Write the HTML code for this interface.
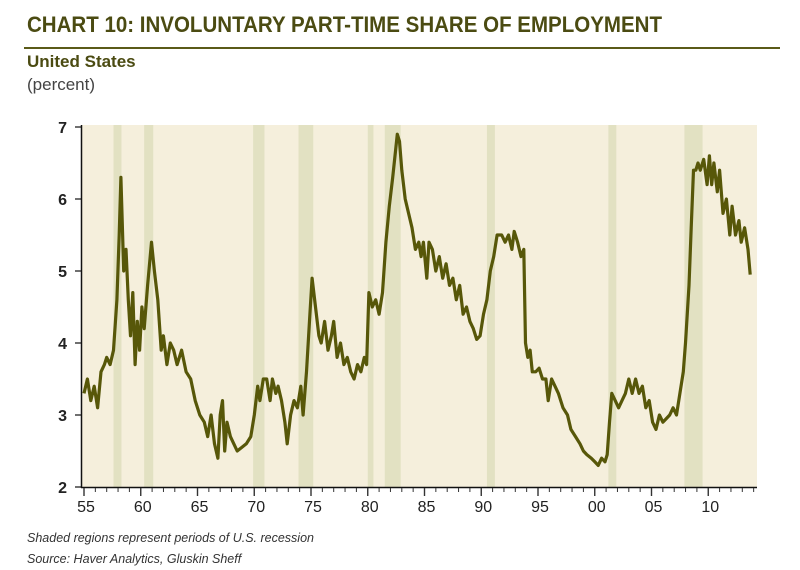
<!DOCTYPE html>
<html><head><meta charset="utf-8"><style>
body{margin:0;background:#fff;}
svg{display:block;font-family:"Liberation Sans",sans-serif;}
</style></head><body>
<svg width="800" height="570" viewBox="0 0 800 570">
<text x="27" y="32" font-size="22" font-weight="bold" fill="#4b4b12" textLength="635" lengthAdjust="spacingAndGlyphs">CHART 10: INVOLUNTARY PART-TIME SHARE OF EMPLOYMENT</text>
<rect x="24" y="47" width="756" height="2" fill="#5a5a18"/>
<text x="27" y="67" font-size="17" font-weight="bold" fill="#4b4b12">United States</text>
<text x="27" y="90" font-size="17" fill="#444">(percent)</text>
<rect x="82" y="125" width="675" height="362" fill="#f5efdc"/>
<g id="rec"></g>
<g id="ln"></g>
<g id="ax"></g>
<text x="27" y="542" font-size="12.5" font-style="italic" fill="#333">Shaded regions represent periods of U.S. recession</text>
<text x="27" y="563" font-size="12.5" font-style="italic" fill="#333">Source: Haver Analytics, Gluskin Sheff</text>
</svg>
<script>
const recStart=[1957.6,1960.3,1969.9,1973.9,1980.0,1981.5,1990.5,2001.2,2007.9];
const recEnd=[1958.3,1961.1,1970.9,1975.2,1980.5,1982.9,1991.2,2001.9,2009.5];
const years=[1955.0,1955.3,1955.6,1955.9,1956.2,1956.5,1956.8,1957.0,1957.3,1957.6,1957.9,1958.1,1958.25,1958.5,1958.7,1958.9,1959.1,1959.3,1959.5,1959.7,1959.9,1960.1,1960.3,1960.6,1960.95,1961.2,1961.5,1961.8,1962.0,1962.3,1962.6,1962.9,1963.2,1963.6,1964.0,1964.4,1964.8,1965.2,1965.6,1965.9,1966.2,1966.5,1966.8,1967.0,1967.2,1967.4,1967.6,1967.9,1968.2,1968.5,1968.9,1969.3,1969.7,1970.0,1970.3,1970.5,1970.8,1971.1,1971.4,1971.6,1971.9,1972.1,1972.4,1972.7,1972.9,1973.2,1973.5,1973.8,1974.1,1974.3,1974.6,1974.9,1975.1,1975.4,1975.7,1975.9,1976.2,1976.5,1976.8,1977.0,1977.3,1977.6,1977.9,1978.2,1978.5,1978.8,1979.1,1979.4,1979.7,1979.9,1980.1,1980.4,1980.7,1981.0,1981.3,1981.6,1981.9,1982.2,1982.6,1982.8,1983.0,1983.3,1983.6,1983.9,1984.2,1984.5,1984.7,1984.9,1985.2,1985.4,1985.7,1986.0,1986.3,1986.6,1986.9,1987.2,1987.5,1987.8,1988.1,1988.4,1988.7,1989.0,1989.3,1989.6,1989.9,1990.2,1990.5,1990.8,1991.1,1991.4,1991.8,1992.1,1992.4,1992.7,1992.9,1993.2,1993.5,1993.75,1993.9,1994.1,1994.3,1994.5,1994.8,1995.1,1995.4,1995.7,1995.9,1996.2,1996.5,1996.8,1997.2,1997.6,1997.9,1998.3,1998.7,1999.0,1999.3,1999.7,2000.0,2000.3,2000.6,2000.9,2001.1,2001.3,2001.5,2001.8,2002.1,2002.4,2002.7,2003.0,2003.3,2003.6,2003.9,2004.2,2004.5,2004.8,2005.1,2005.4,2005.7,2006.0,2006.3,2006.6,2006.9,2007.2,2007.5,2007.8,2008.0,2008.3,2008.5,2008.7,2008.9,2009.1,2009.3,2009.6,2009.9,2010.1,2010.3,2010.5,2010.8,2011.0,2011.3,2011.6,2011.9,2012.1,2012.4,2012.7,2012.9,2013.2,2013.5,2013.7,2013.9];
const values=[3.3,3.5,3.2,3.4,3.1,3.6,3.7,3.8,3.7,3.9,4.6,5.5,6.3,5.0,5.3,4.6,4.1,4.7,3.7,4.3,3.9,4.5,4.2,4.8,5.4,5.0,4.6,3.9,4.1,3.7,4.0,3.9,3.7,3.9,3.6,3.5,3.2,3.0,2.9,2.7,3.0,2.6,2.4,3.0,3.2,2.5,2.9,2.7,2.6,2.5,2.55,2.6,2.7,3.0,3.4,3.2,3.5,3.5,3.2,3.5,3.3,3.4,3.2,2.9,2.6,3.0,3.2,3.1,3.4,3.0,3.6,4.4,4.9,4.5,4.1,4.0,4.3,3.9,4.1,4.3,3.8,4.0,3.7,3.8,3.6,3.5,3.7,3.6,3.8,3.7,4.7,4.5,4.6,4.4,4.7,5.4,5.9,6.3,6.9,6.8,6.4,6.0,5.8,5.6,5.3,5.4,5.2,5.4,4.9,5.4,5.3,5.0,5.2,4.9,5.1,4.8,4.9,4.6,4.8,4.4,4.5,4.3,4.2,4.05,4.1,4.4,4.6,5.0,5.2,5.5,5.5,5.4,5.5,5.3,5.55,5.4,5.2,5.3,4.0,3.8,3.9,3.6,3.6,3.65,3.5,3.5,3.2,3.5,3.4,3.3,3.1,3.0,2.8,2.7,2.6,2.5,2.45,2.4,2.35,2.3,2.4,2.35,2.45,2.9,3.3,3.2,3.1,3.2,3.3,3.5,3.3,3.5,3.3,3.4,3.1,3.2,2.9,2.8,3.0,2.9,2.95,3.0,3.1,3.0,3.3,3.6,4.0,4.8,5.6,6.4,6.4,6.5,6.4,6.55,6.2,6.6,6.2,6.5,6.1,6.4,5.8,6.0,5.5,5.9,5.5,5.7,5.4,5.6,5.3,4.95];
const yTicks=[2,3,4,5,6,7];
const xTickYears=[1955,1960,1965,1970,1975,1980,1985,1990,1995,2000,2005,2010];
const xTickLabels=["55","60","65","70","75","80","85","90","95","00","05","10"];
const NS="http://www.w3.org/2000/svg";
function X(yr){return 84+(yr-1955)*11.35;}
function Y(v){return 487-(v-2)*72;}
function mk(t,a,p){const e=document.createElementNS(NS,t);for(const k in a)e.setAttribute(k,a[k]);p.appendChild(e);return e;}
const rec=document.getElementById('rec');
recStart.forEach((s,i)=>{const r=mk('rect',{x:X(s),y:125,width:X(recEnd[i])-X(s),height:362,fill:'#e2e1c2'},rec);

});
const ln=document.getElementById('ln');
let d=years.map((y,i)=>(i?'L':'M')+X(y).toFixed(1)+' '+Y(values[i]).toFixed(1)).join(' ');
const p=mk('path',{d:d,fill:'none',stroke:'#575709','stroke-width':3.2,'stroke-linejoin':'round'},ln);


const ax=document.getElementById('ax');
const ya=mk('line',{x1:81.5,y1:125,x2:81.5,y2:488,stroke:'#111','stroke-width':1.5},ax);


const xa=mk('line',{x1:81,y1:487.5,x2:757,y2:487.5,stroke:'#111','stroke-width':1.5},ax);


yTicks.forEach(v=>{mk('line',{x1:75,y1:Y(v),x2:81,y2:Y(v),stroke:'#111','stroke-width':1.2},ax);
const t=mk('text',{x:67,y:Y(v)+6,'font-size':16,'font-weight':'bold','text-anchor':'end',fill:'#222'},ax);t.textContent=v;

});
for(let yr=1955;yr<=2014;yr++){const maj=(yr%5===0);mk('line',{x1:X(yr),y1:488,x2:X(yr),y2:maj?496:492,stroke:'#333','stroke-width':maj?1.4:1},ax);}
xTickYears.forEach((yr,i)=>{const t=mk('text',{x:X(yr)+2,y:512,'font-size':16,'text-anchor':'middle',fill:'#222'},ax);t.textContent=xTickLabels[i];

});
</script>
</body></html>
